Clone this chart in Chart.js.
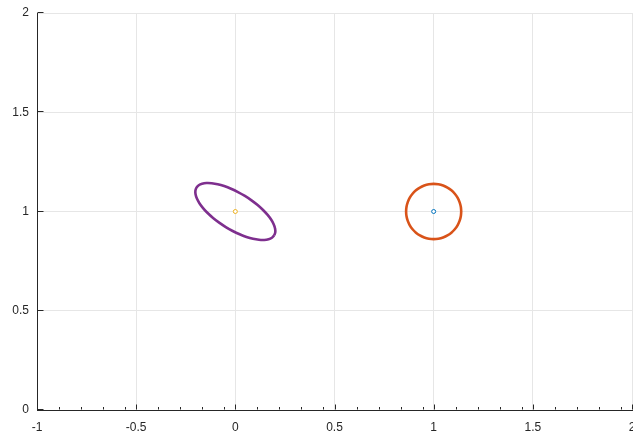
<!DOCTYPE html>
<html>
<head>
<meta charset="utf-8">
<script src="https://cdn.jsdelivr.net/npm/chart.js@4.4.1/dist/chart.umd.min.js"></script>
<style>
html,body{margin:0;padding:0;background:#fff;}
#wrap{width:633px;height:434px;position:relative;}
</style>
</head>
<body>
<div id="wrap"><canvas id="c" width="633" height="434"></canvas></div>
<script>
// ---- data ----
const ellipseX = [0.1959,0.2013,0.2006,0.1938,0.1811,0.1628,0.1397,0.1123,0.0815,0.0482,0.0135,-0.0217,-0.0563,-0.0890,-0.1191,-0.1456,-0.1676,-0.1845,-0.1959,-0.2013,-0.2006,-0.1938,-0.1811,-0.1628,-0.1397,-0.1123,-0.0815,-0.0482,-0.0135,0.0217,0.0563,0.0890,0.1191,0.1456,0.1676,0.1845,0.1959];
const ellipseY = [0.8795,0.8949,0.9136,0.9348,0.9581,0.9826,1.0076,1.0325,1.0563,1.0784,1.0981,1.1149,1.1282,1.1376,1.1427,1.1436,1.1400,1.1323,1.1205,1.1051,1.0864,1.0652,1.0419,1.0174,0.9924,0.9675,0.9437,0.9216,0.9019,0.8851,0.8718,0.8624,0.8573,0.8564,0.8600,0.8677,0.8795];
const circleX = [1.139,1.1369,1.1306,1.1204,1.1065,1.0893,1.0695,1.0475,1.0241,1,0.9759,0.9525,0.9305,0.9107,0.8935,0.8796,0.8694,0.8631,0.861,0.8631,0.8694,0.8796,0.8935,0.9107,0.9305,0.9525,0.9759,1,1.0241,1.0475,1.0695,1.0893,1.1065,1.1204,1.1306,1.1369,1.139];
const circleY = [1,1.0241,1.0475,1.0695,1.0893,1.1065,1.1204,1.1306,1.1369,1.139,1.1369,1.1306,1.1204,1.1065,1.0893,1.0695,1.0475,1.0241,1,0.9759,0.9525,0.9305,0.9107,0.8935,0.8796,0.8694,0.8631,0.861,0.8631,0.8694,0.8796,0.8935,0.9107,0.9305,0.9525,0.9759,1];
const centerBlue = [1, 1];
const centerYellow = [0, 1];
const xTickLabels = ['-1','-0.5','0','0.5','1','1.5','2'];
const yTickLabels = ['0','0.5','1','1.5','2'];
const xMajorTicks = [-1,-0.5,0,0.5,1,1.5,2];
const yMajorTicks = [0,0.5,1,1.5,2];
const xMinorTicks = [-0.889,-0.778,-0.667,-0.556,-0.389,-0.278,-0.167,-0.056,0.111,0.222,0.333,0.444,0.611,0.722,0.833,0.944,1.111,1.222,1.333,1.444,1.611,1.722,1.833,1.944];

function pts(xs, ys){ return xs.map((x,i)=>({x:x, y:ys[i]})); }

const inwardTicks = {
  id:'inwardTicks',
  afterDatasetsDraw(chart){
    const ctx = chart.ctx, xs = chart.scales.x, ys = chart.scales.y, a = chart.chartArea;
    ctx.save();
    ctx.strokeStyle = '#262626';
    ctx.lineWidth = 1;
    ctx.beginPath();
    const bottom = Math.round(a.bottom) - 0.5;
    xMajorTicks.forEach(v=>{ const px = Math.round(xs.getPixelForValue(v)) + 0.5; ctx.moveTo(px, bottom); ctx.lineTo(px, bottom-5); });
    xMinorTicks.forEach(v=>{ const px = Math.round(xs.getPixelForValue(v)) + 0.5; ctx.moveTo(px, bottom); ctx.lineTo(px, bottom-2.5); });
    const left = Math.round(a.left) + 0.5;
    yMajorTicks.forEach(v=>{ const py = Math.round(ys.getPixelForValue(v)) - 0.5; ctx.moveTo(left, py); ctx.lineTo(left+6, py); });
    ctx.stroke();
    ctx.restore();
  }
};

new Chart(document.getElementById('c'), {
  type:'scatter',
  data:{
    datasets:[
      {data:pts(ellipseX, ellipseY), showLine:true, borderColor:'#7E2F8E', borderWidth:2.6, pointRadius:0, tension:0.3, fill:false},
      {data:pts(circleX, circleY), showLine:true, borderColor:'#D95319', borderWidth:2.6, pointRadius:0, tension:0.3, fill:false},
      {data:[{x:centerBlue[0], y:centerBlue[1]}], pointRadius:2, pointBorderWidth:1, borderColor:'#0072BD', backgroundColor:'#ffffff', pointStyle:'circle'},
      {data:[{x:centerYellow[0], y:centerYellow[1]}], pointRadius:2, pointBorderWidth:1, borderColor:'#EDB120', backgroundColor:'#ffffff', pointStyle:'circle'}
    ]
  },
  options:{
    responsive:false,
    animation:false,
    layout:{autoPadding:false, padding:{top:13, right:1, left:0, bottom:0}},
    plugins:{legend:{display:false}, tooltip:{enabled:false}},
    scales:{
      x:{
        type:'linear', min:-1, max:2,
        afterBuildTicks(s){ s.ticks = xMajorTicks.map(v=>({value:v})); },
        afterFit(s){ s.height = 24; s.paddingLeft = 0; s.paddingRight = 0; },
        ticks:{ padding:10, color:'#262626', font:{family:'Liberation Sans', size:12}, maxRotation:0, autoSkip:false,
          callback:(v,i)=>xTickLabels[i] },
        grid:{ color:'#e6e6e6', drawTicks:false, lineWidth:1 },
        border:{ color:'#262626', width:1 }
      },
      y:{
        type:'linear', min:0, max:2,
        afterBuildTicks(s){ s.ticks = yMajorTicks.map(v=>({value:v})); },
        afterFit(s){ s.width = 37; s.paddingTop = 0; s.paddingBottom = 0; },
        ticks:{ padding:8, color:'#262626', font:{family:'Liberation Sans', size:12}, autoSkip:false,
          callback:(v,i)=>yTickLabels[i] },
        grid:{ color:'#e6e6e6', drawTicks:false, lineWidth:1 },
        border:{ color:'#262626', width:1 }
      }
    }
  },
  plugins:[inwardTicks]
});
</script>
</body>
</html>
